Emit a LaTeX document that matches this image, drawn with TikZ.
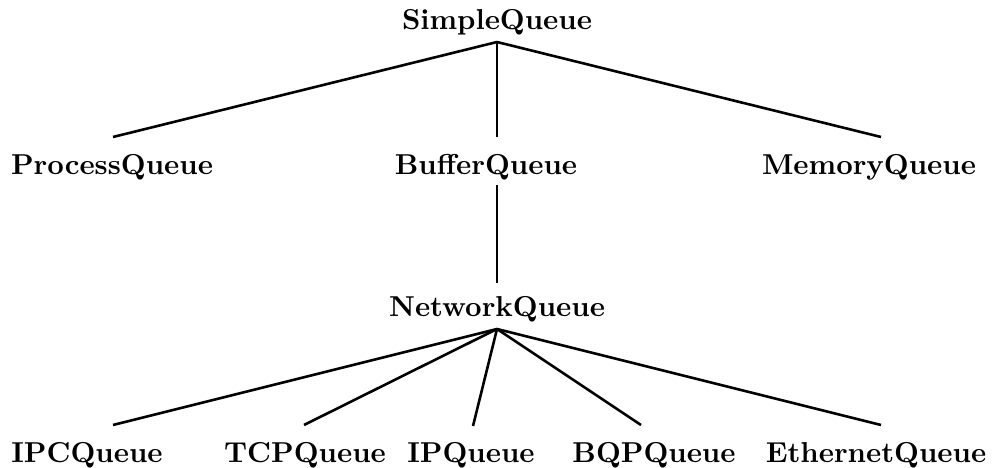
\documentclass[tikz,border=0pt]{standalone}
\begin{document}
\begin{tikzpicture}[x=0.3472pt,y=-0.3472pt,
  lbl/.style={anchor=base,inner sep=0pt,font=\bfseries},
  edge/.style={line width=0.9pt}]
\useasboundingbox (0,0) rectangle (995,468);
% labels
\node[lbl] (simple) at (497,30) {SimpleQueue};
\node[lbl] (process) at (112,175) {ProcessQueue};
\node[lbl] (buffer) at (486,175) {BufferQueue};
\node[lbl] (memory) at (869,175) {MemoryQueue};
\node[lbl] (network) at (497,317) {NetworkQueue};
\node[lbl] (ipc) at (87,462) {IPCQueue};
\node[lbl] (tcp) at (305,462) {TCPQueue};
\node[lbl] (ip) at (471,462) {IPQueue};
\node[lbl] (bqp) at (654,462) {BQPQueue};
\node[lbl] (eth) at (876,462) {EthernetQueue};
% connector ends
\coordinate (simple-b) at (497,42);
\coordinate (process-t) at (113,137);
\coordinate (buffer-t) at (497,137);
\coordinate (memory-t) at (881,137);
\coordinate (buffer-b) at (497,185);
\coordinate (network-t) at (497,283);
\coordinate (network-b) at (497,329);
\coordinate (ipc-t) at (113,425);
\coordinate (tcp-t) at (304,425);
\coordinate (ip-t) at (473,426);
\coordinate (bqp-t) at (641,425);
\coordinate (eth-t) at (881,425);
% connectors
\draw[edge] (simple-b) -- (process-t);
\draw[edge] (simple-b) -- (buffer-t);
\draw[edge] (simple-b) -- (memory-t);
\draw[edge] (buffer-b) -- (network-t);
\draw[edge] (network-b) -- (ipc-t);
\draw[edge] (network-b) -- (tcp-t);
\draw[edge] (network-b) -- (ip-t);
\draw[edge] (network-b) -- (bqp-t);
\draw[edge] (network-b) -- (eth-t);
\end{tikzpicture}
\end{document}
